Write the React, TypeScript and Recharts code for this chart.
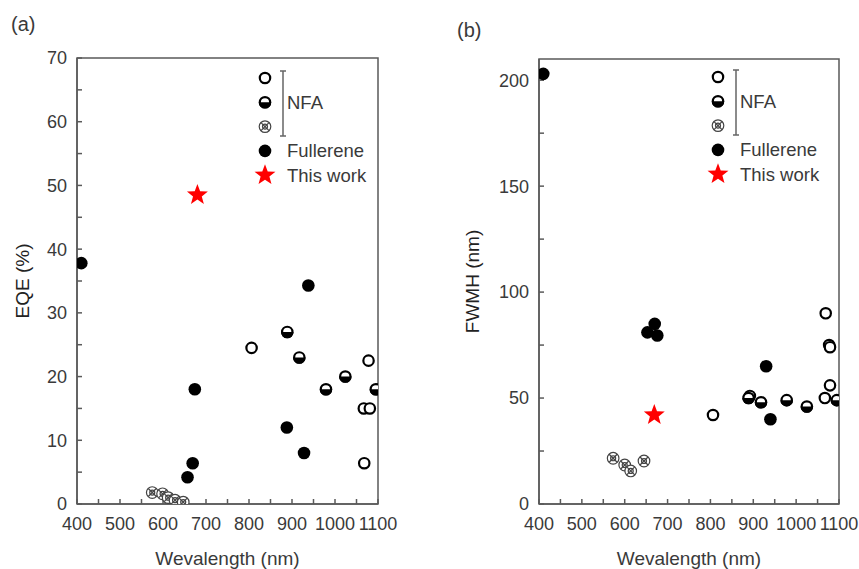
import { ReferenceArea, Scatter, ScatterChart, XAxis, YAxis } from 'recharts';

// (a) EQE vs wavelength
const eqeFullereneWl = [410, 657, 669, 674, 888, 928, 938];
const eqeFullerene = [37.8, 4.2, 6.4, 18.0, 12.0, 8.0, 34.3];
const eqeHalfWl = [889, 917, 979, 1024, 1095];
const eqeHalf = [27.0, 23.0, 18.0, 20.0, 18.0];
const eqeOpenWl = [806, 1067, 1068, 1078, 1081];
const eqeOpen = [24.5, 15.0, 6.4, 22.5, 15.0];
const eqeHatchWl = [575, 599, 612, 628, 647];
const eqeHatch = [1.8, 1.6, 1.0, 0.6, 0.3];
const eqeThisWl = [680];
const eqeThis = [48.5];

// (b) FWHM vs wavelength
const fwhmFullereneWl = [410, 653, 670, 676, 930, 940];
const fwhmFullerene = [203, 81, 85, 79.5, 65, 40];
const fwhmHalfWl = [889, 918, 978, 1025, 1095];
const fwhmHalf = [50, 48, 49, 46, 49];
const fwhmOpenWl = [806, 892, 1067, 1069, 1077, 1079, 1079];
const fwhmOpen = [42, 51, 50, 90, 75, 74, 56];
const fwhmHatchWl = [573, 600, 614, 645];
const fwhmHatch = [21.6, 18.4, 15.6, 20.3];
const fwhmThisWl = [669];
const fwhmThis = [42];

const wlTicks = [400, 450, 500, 550, 600, 650, 700, 750, 800, 850, 900, 950, 1000, 1050, 1100];
const eqeTicks = [0, 5, 10, 15, 20, 25, 30, 35, 40, 45, 50, 55, 60, 65, 70];
const fwhmTicks = [0, 25, 50, 75, 100, 125, 150, 175, 200];

const AXIS = '#5a5a5a';
const TEXT = '#3a3a3a';
const FONT = '"Liberation Sans", Arial, sans-serif';

const pts = (xs: number[], ys: number[]) => xs.map((x, i) => ({ x, y: ys[i] }));

const Filled = ({ cx, cy }: any) => <circle cx={cx} cy={cy} r={6.3} fill="#000" />;
const Open = ({ cx, cy }: any) => <circle cx={cx} cy={cy} r={5.2} fill="#fff" stroke="#000" strokeWidth={2.2} />;
const Half = ({ cx, cy }: any) => (
  <g>
    <circle cx={cx} cy={cy} r={5.2} fill="#fff" stroke="#000" strokeWidth={2.2} />
    <path d={`M${cx - 6.3},${cy} A6.3,6.3 0 0 0 ${cx + 6.3},${cy} Z`} fill="#000" />
  </g>
);
const Hatch = ({ cx, cy }: any) => (
  <g stroke="#444" strokeWidth={1.2} fill="none">
    <circle cx={cx} cy={cy} r={5.8} fill="#fff" />
    <circle cx={cx} cy={cy} r={2.5} />
    <path d={`M${cx - 4},${cy - 4}L${cx + 4},${cy + 4}M${cx + 4},${cy - 4}L${cx - 4},${cy + 4}`} />
  </g>
);
const starPath = (cx: number, cy: number, R: number, r: number) => {
  let d = '';
  for (let i = 0; i < 10; i++) {
    const rad = i % 2 === 0 ? R : r;
    const a = -Math.PI / 2 + (i * Math.PI) / 5;
    d += `${i === 0 ? 'M' : 'L'}${cx + rad * Math.cos(a)},${cy + rad * Math.sin(a)}`;
  }
  return d + 'Z';
};
const Star = ({ cx, cy }: any) => <path d={starPath(cx, cy, 11, 4.6)} fill="#ff0000" />;

function LegendBox({ left, top }: { left: number; top: number }) {
  // left/top = centre of the first marker
  const rows = [0, 24.3, 48.6, 72.9, 97.2];
  return (
    <svg
      width={130}
      height={130}
      style={{ position: 'absolute', left: left - 15, top: top - 15, overflow: 'visible' }}
    >
      <g transform="translate(15,15)">
        <Open cx={0} cy={rows[0]} />
        <Half cx={0} cy={rows[1]} />
        <Hatch cx={0} cy={rows[2]} />
        <Filled cx={0} cy={rows[3]} />
        <Star cx={0} cy={rows[4]} />
        <path d={`M15,-7H21M18,-7V58M15,58H21`} stroke="#666" strokeWidth={1.5} fill="none" />
        <g fontFamily={FONT} fontSize={18.5} fill={TEXT}>
          <text x={22} y={rows[1] + 6.5}>NFA</text>
          <text x={22} y={rows[3] + 6.5}>Fullerene</text>
          <text x={22} y={rows[4] + 6.5}>This work</text>
        </g>
      </g>
    </svg>
  );
}

type PanelProps = {
  left: number;
  width: number;
  yAxisWidth: number;
  rightMargin: number;
  topMargin: number;
  yMax: number;
  yTicks: number[];
  yMajor: number;
  yLabel: string;
  yLabelOffset: number;
  fullerene: { x: number; y: number }[];
  half: { x: number; y: number }[];
  open: { x: number; y: number }[];
  hatch: { x: number; y: number }[];
  thisWork: { x: number; y: number }[];
};

function Panel(p: PanelProps) {
  return (
    <div style={{ position: 'absolute', left: p.left, top: 0 }}>
      <ScatterChart
        width={p.width}
        height={569}
        margin={{ top: p.topMargin, right: p.rightMargin, bottom: 0, left: 0 }}
        style={{ fontFamily: FONT }}
      >
        <XAxis
          type="number"
          dataKey="x"
          domain={[400, 1100]}
          ticks={wlTicks}
          allowDataOverflow
          interval={0}
          height={65}
          tickSize={-5}
          tickMargin={18}
          tickFormatter={(v: number) => (v % 100 === 0 ? String(v) : '')}
          tick={{ fontSize: 18, fill: TEXT }}
          stroke={AXIS}
          strokeWidth={1.5}
          label={{ value: 'Wevalength (nm)', position: 'insideBottom', offset: 4, fontSize: 19, fill: TEXT }}
        />
        <YAxis
          type="number"
          dataKey="y"
          domain={[0, p.yMax]}
          ticks={p.yTicks}
          allowDataOverflow
          interval={0}
          width={p.yAxisWidth}
          tickSize={-5}
          tickMargin={15}
          tickFormatter={(v: number) => (v % p.yMajor === 0 ? String(v) : '')}
          tick={{ fontSize: 18, fill: TEXT }}
          stroke={AXIS}
          strokeWidth={1.5}
          label={{
            value: p.yLabel,
            angle: -90,
            position: 'insideLeft',
            offset: p.yLabelOffset,
            fontSize: 19,
            fill: '#222',
            style: { textAnchor: 'middle' },
          }}
        />
        <ReferenceArea x1={400} x2={1100} y1={0} y2={p.yMax} fill="none" stroke={AXIS} strokeWidth={1.5} />
        <Scatter data={p.hatch} shape={Hatch} isAnimationActive={false} />
        <Scatter data={p.open} shape={Open} isAnimationActive={false} />
        <Scatter data={p.half} shape={Half} isAnimationActive={false} />
        <Scatter data={p.fullerene} shape={Filled} isAnimationActive={false} />
        <Scatter data={p.thisWork} shape={Star} isAnimationActive={false} />
      </ScatterChart>
    </div>
  );
}

export default function App() {
  return (
    <div
      style={{
        position: 'absolute',
        left: 0,
        top: 0,
        width: 859,
        height: 569,
        background: '#fff',
        overflow: 'hidden',
        fontFamily: FONT,
      }}
    >
      <Panel
        left={0}
        width={430}
        yAxisWidth={77}
        rightMargin={52}
        topMargin={58}
        yMax={70}
        yTicks={eqeTicks}
        yMajor={10}
        yLabel="EQE (%)"
        yLabelOffset={22}
        fullerene={pts(eqeFullereneWl, eqeFullerene)}
        half={pts(eqeHalfWl, eqeHalf)}
        open={pts(eqeOpenWl, eqeOpen)}
        hatch={pts(eqeHatchWl, eqeHatch)}
        thisWork={pts(eqeThisWl, eqeThis)}
      />
      <Panel
        left={430}
        width={429}
        yAxisWidth={109}
        rightMargin={20}
        topMargin={59}
        yMax={210}
        yTicks={fwhmTicks}
        yMajor={50}
        yLabel="FWMH (nm)"
        yLabelOffset={42}
        fullerene={pts(fwhmFullereneWl, fwhmFullerene)}
        half={pts(fwhmHalfWl, fwhmHalf)}
        open={pts(fwhmOpenWl, fwhmOpen)}
        hatch={pts(fwhmHatchWl, fwhmHatch)}
        thisWork={pts(fwhmThisWl, fwhmThis)}
      />
      <LegendBox left={265} top={78} />
      <LegendBox left={718} top={77} />
      <div style={{ position: 'absolute', left: 11, top: 13, fontSize: 20, color: TEXT }}>(a)</div>
      <div style={{ position: 'absolute', left: 457, top: 19, fontSize: 20, color: TEXT }}>(b)</div>
    </div>
  );
}
